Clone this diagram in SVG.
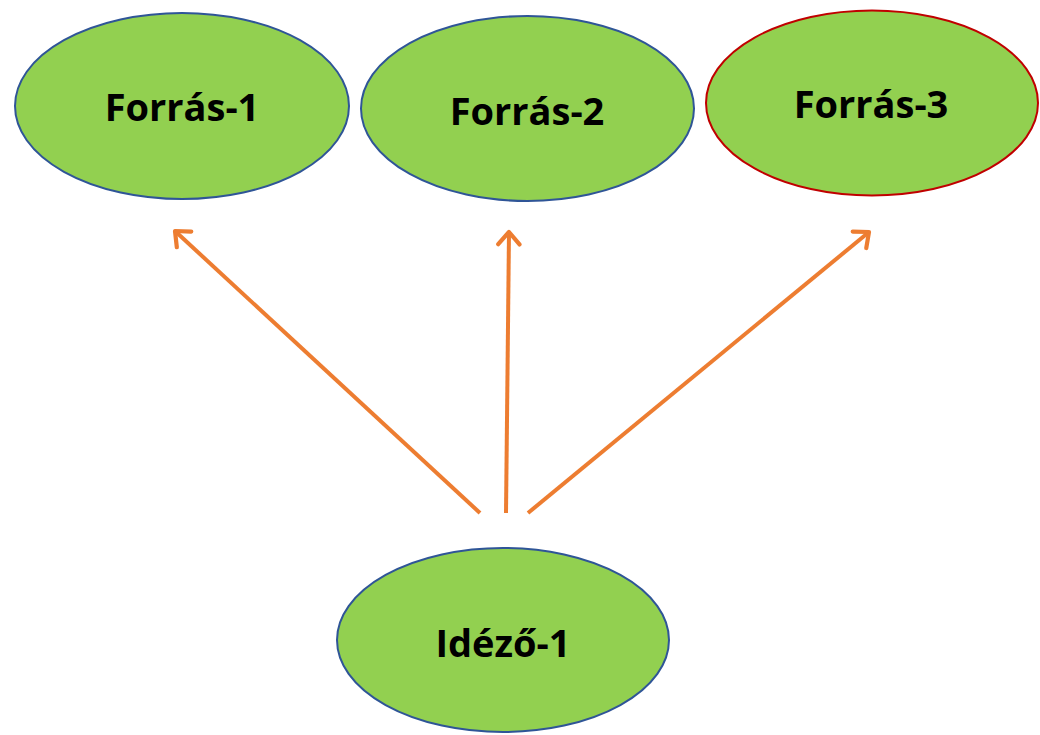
<svg xmlns="http://www.w3.org/2000/svg" width="1040" height="735" viewBox="0 0 1040 735">
<defs>
<style>
.node{fill:#92D050;stroke:#2F5597;stroke-width:2}
.red{stroke:#C00000}
.lbl{font-family:"Open Sans","Liberation Sans",sans-serif;font-weight:bold;font-size:38px;fill:#000;text-anchor:middle}
.conn{stroke:#ED7D31;stroke-width:4;fill:none;marker-end:url(#arr)}
</style>
<marker id="arr" viewBox="0 0 10 10" refX="8.6" refY="5" markerWidth="7" markerHeight="7" orient="auto" markerUnits="strokeWidth">
<polyline points="4.2,1.2 8.6,5 4.2,8.8" fill="none" stroke="#ED7D31" stroke-width="1.5" stroke-linecap="round" stroke-linejoin="round"/>
</marker>
</defs>
<rect width="1040" height="735" fill="#fff"/>
<g id="connectors">
<line class="conn" x1="480" y1="513" x2="175" y2="231"/>
<line class="conn" x1="506" y1="513" x2="509" y2="232"/>
<line class="conn" x1="528" y1="513" x2="869" y2="232"/>
</g>
<g id="forras1">
<ellipse class="node" cx="182" cy="106" rx="167" ry="93"/>
<text class="lbl" x="182" y="121">Forrás-1</text>
</g>
<g id="forras2">
<ellipse class="node" cx="527.5" cy="108.5" rx="166.5" ry="92.5"/>
<text class="lbl" x="527" y="125">Forrás-2</text>
</g>
<g id="forras3">
<ellipse class="node red" cx="872" cy="103" rx="166" ry="92.5"/>
<text class="lbl" x="871" y="118">Forrás-3</text>
</g>
<g id="idezo1">
<ellipse class="node" cx="503" cy="640" rx="166" ry="92"/>
<text class="lbl" x="503" y="657">Idéző-1</text>
</g>
</svg>
